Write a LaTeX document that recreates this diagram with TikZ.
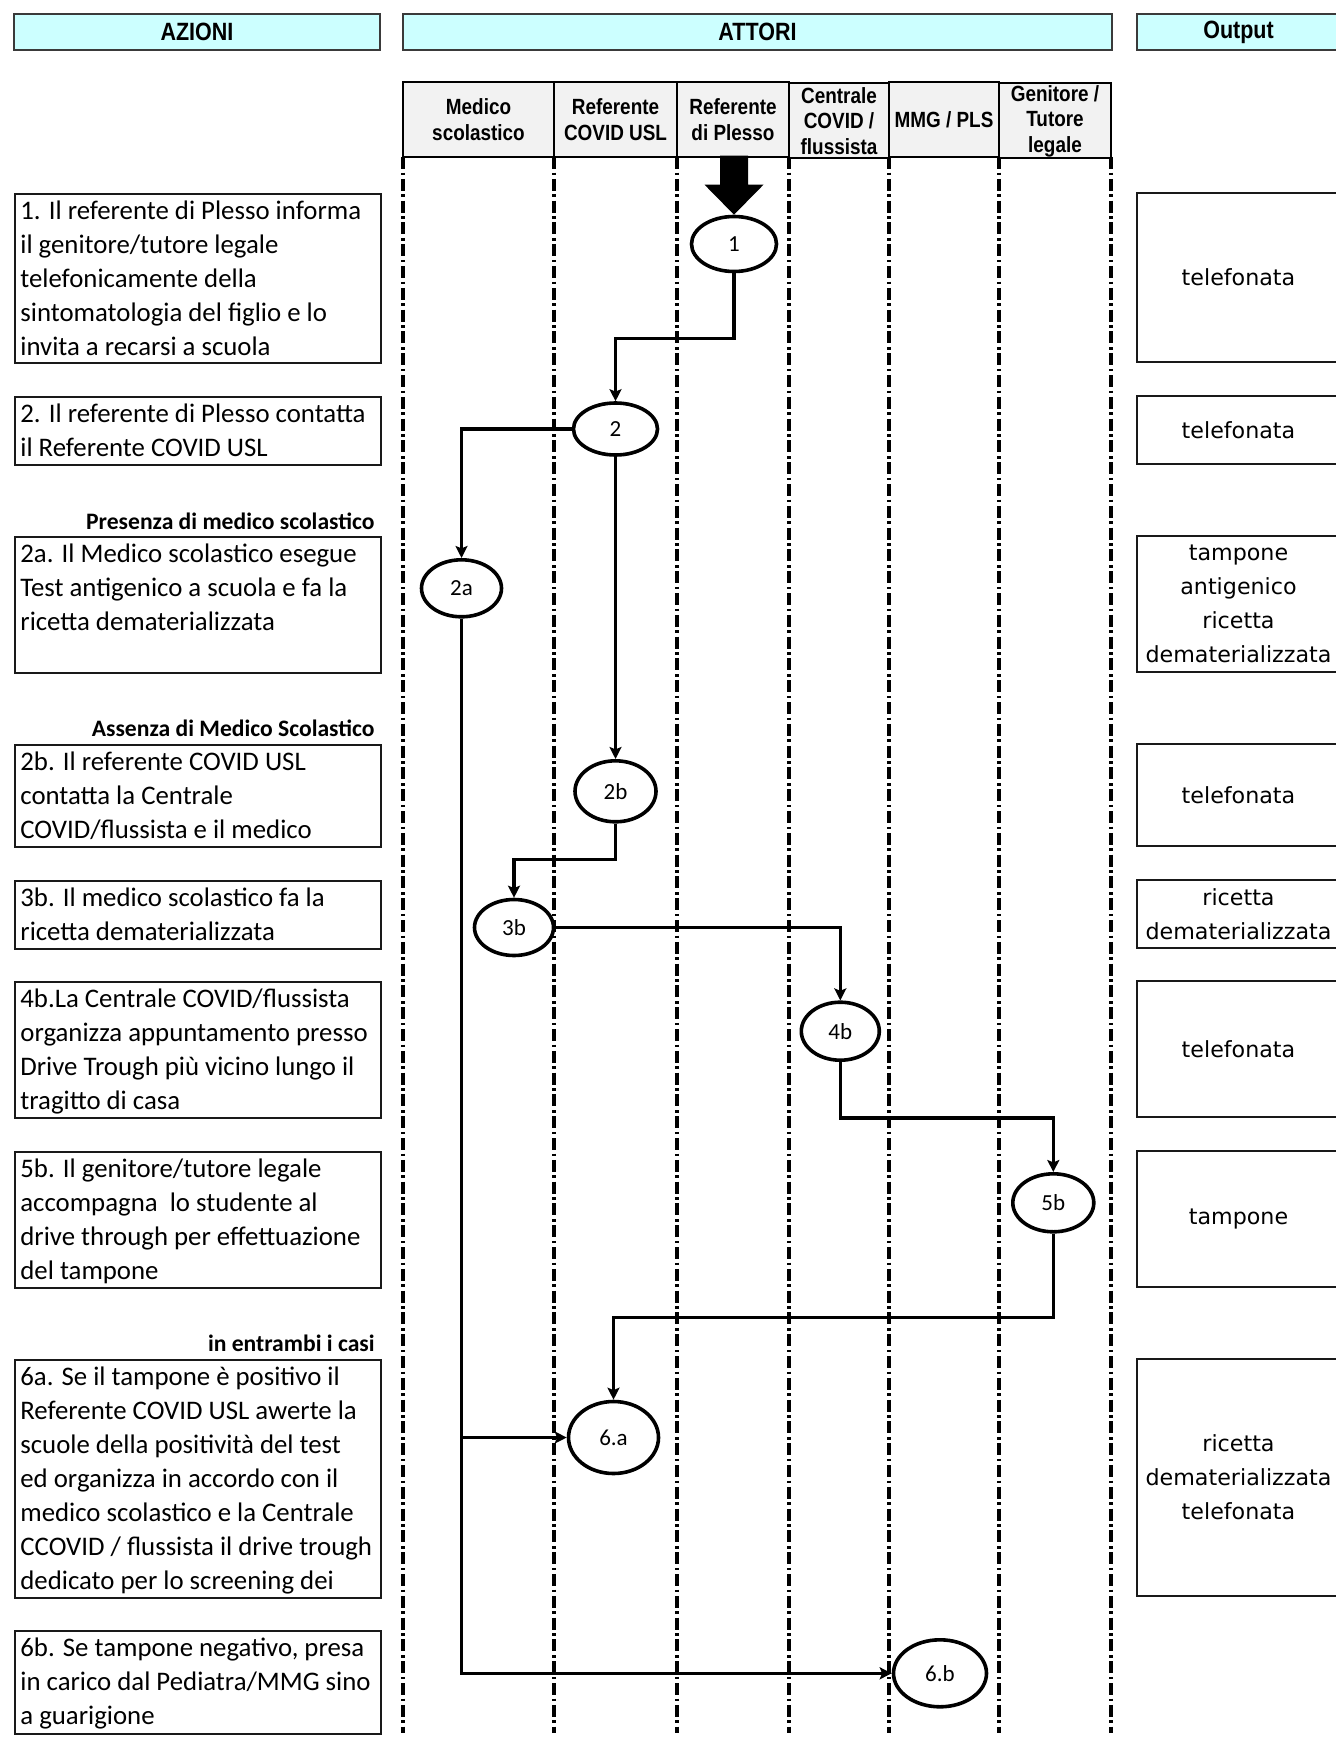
\documentclass[tikz,border=0pt]{standalone}
\usepackage{fontspec}
\setmainfont{Carlito}
\newfontfamily\hdrfont[FakeStretch=0.86]{Liberation Sans}
\newfontfamily\outfont{DejaVu Sans}
\usetikzlibrary{shapes.geometric,arrows.meta,calc}
\definecolor{titlecyan}{HTML}{CCFFFF}
\definecolor{hdrgray}{HTML}{F2F2F2}
\definecolor{edgegray}{HTML}{3A3A3A}
\begin{document}
\begin{tikzpicture}[x=0.5pt,y=-0.5pt,
  title/.style={draw=edgegray,line width=1.2pt,fill=titlecyan,inner sep=0pt,minimum height=18pt,font=\hdrfont\bfseries\fontsize{12.5}{14}\selectfont},
  lanehdr/.style={draw=black,line width=1pt,fill=hdrgray,inner sep=0pt,minimum height=37.5pt,align=center,font=\hdrfont\bfseries\fontsize{11}{12.75}\selectfont},
  lane/.style={line width=1.6pt,dash pattern=on 6pt off 1.8pt on 1.3pt off 1.8pt},
  lbox/.style={draw=black!90,line width=1.1pt,minimum width=183pt,inner sep=0pt,anchor=north west},
  ltext/.style={anchor=north west,inner sep=0pt,align=left,font=\fontsize{13.4}{17}\selectfont},
  lbl/.style={anchor=east,inner sep=0pt,font=\bfseries\fontsize{11.8}{13}\selectfont},
  obox/.style={draw=black!90,line width=1.1pt,minimum width=101.5pt,inner sep=0pt,align=center,font=\outfont\fontsize{11.1}{17}\selectfont},
  circ/.style={ellipse,draw,line width=1.8pt,fill=white,inner sep=0pt,font=\fontsize{11.5}{13}\selectfont},
  conn/.style={line width=1.8pt,-{Stealth[length=6pt,width=6pt,inset=1.2pt]}}
]
\useasboundingbox (0,0) rectangle (1336,1744);
\clip (0,0) rectangle (1336,1744);

% titles
\node[title,minimum width=183pt] (tAz) at (197,32) {AZIONI};
\node[title,minimum width=354.5pt] (tAt) at (757.5,32) {ATTORI};
\node[title,minimum width=101.5pt] (tOut) at (1238.5,32) {Output};

% lane headers
\node[lanehdr,minimum width=75.5pt] (h1) at (478.5,119.5) {Medico\\scolastico};
\node[lanehdr,minimum width=61.5pt] (h2) at (615.5,119.5) {Referente\\COVID USL};
\node[lanehdr,minimum width=56pt] (h3) at (733,119.5) {Referente\\di Plesso};
\node[lanehdr,minimum width=50pt] (h4) at (839,121) {Centrale\\COVID /\\flussista};
\node[lanehdr,minimum width=55pt] (h5) at (944,119.5) {MMG / PLS};
\node[lanehdr,minimum width=56pt] (h6) at (1055,121) {Genitore /\\Tutore\\legale};

% lane lines
\foreach \lx in {403,554,677,789,889,999,1111}{
  \draw[lane] (\lx,157) -- (\lx,1733);
}

% left boxes
\node[lbox,minimum height=84.5pt] (b1) at (14,193) {};
\node[ltext] (t1) at ([xshift=3pt]b1.north west) {\rule{0pt}{13pt}1. Il referente di Plesso informa\\il genitore/tutore legale\\telefonicamente della\\sintomatologia del figlio e lo\\invita a recarsi a scuola};
\node[lbox,minimum height=34pt] (b2) at (14,396) {};
\node[ltext] (t2) at ([xshift=3pt]b2.north west) {\rule{0pt}{13pt}2. Il referente di Plesso contatta\\il Referente COVID USL};
\node[lbl] (l2a) at (375,521.7) {Presenza di medico scolastico};
\node[lbox,minimum height=68pt] (b2a) at (14,536) {};
\node[ltext] (t2a) at ([xshift=3pt]b2a.north west) {\rule{0pt}{13pt}2a. Il Medico scolastico esegue\\Test antigenico a scuola e fa la\\ricetta dematerializzata};
\node[lbl] (l2b) at (375,728.3) {Assenza di Medico Scolastico};
\node[lbox,minimum height=51pt] (b2b) at (14,744) {};
\node[ltext] (t2b) at ([xshift=3pt]b2b.north west) {\rule{0pt}{13pt}2b. Il referente COVID USL\\contatta la Centrale\\COVID/flussista e il medico};
\node[lbox,minimum height=34pt] (b3b) at (14,880) {};
\node[ltext] (t3b) at ([xshift=3pt]b3b.north west) {\rule{0pt}{13pt}3b. Il medico scolastico fa la\\ricetta dematerializzata};
\node[lbox,minimum height=68pt] (b4b) at (14,981) {};
\node[ltext] (t4b) at ([xshift=3pt]b4b.north west) {\rule{0pt}{13pt}4b.La Centrale COVID/flussista\\organizza appuntamento presso\\Drive Trough più vicino lungo il\\tragitto di casa};
\node[lbox,minimum height=68pt] (b5b) at (14,1151) {};
\node[ltext] (t5b) at ([xshift=3pt]b5b.north west) {\rule{0pt}{13pt}5b. Il genitore/tutore legale\\accompagna~ lo studente al\\drive through per effettuazione\\del tampone};
\node[lbl] (l6) at (375,1343) {in entrambi i casi};
\node[lbox,minimum height=119pt] (b6a) at (14,1359) {};
\node[ltext] (t6a) at ([xshift=3pt]b6a.north west) {\rule{0pt}{13pt}6a. Se il tampone è positivo il\\Referente COVID USL awerte la\\scuole della positività del test\\ed organizza in accordo con il\\medico scolastico e la Centrale\\CCOVID / flussista il drive trough\\dedicato per lo screening dei};
\node[lbox,minimum height=51.5pt] (b6b) at (14,1630) {};
\node[ltext] (t6b) at ([xshift=3pt]b6b.north west) {\rule{0pt}{13pt}6b. Se tampone negativo, presa\\in carico dal Pediatra/MMG sino\\a guarigione};

% output boxes
\node[obox,minimum height=84.5pt] (o1) at (1238.5,277.5) {telefonata};
\node[obox,minimum height=34pt] (o2) at (1238.5,430) {telefonata};
\node[obox,minimum height=68pt] (o3) at (1238.5,604) {tampone\\antigenico\\ricetta\\dematerializzata};
\node[obox,minimum height=51pt] (o4) at (1238.5,795) {telefonata};
\node[obox,minimum height=34pt] (o5) at (1238.5,914) {ricetta\\dematerializzata};
\node[obox,minimum height=68pt] (o6) at (1238.5,1049) {telefonata};
\node[obox,minimum height=68pt] (o7) at (1238.5,1219) {tampone};
\node[obox,minimum height=118.5pt] (o8) at (1238.5,1477.5) {ricetta\\dematerializzata\\telefonata};

% flow nodes
\node[circ,minimum width=42.5pt,minimum height=27.5pt] (n1) at (734,244) {1};
\node[circ,minimum width=42pt,minimum height=26pt] (n2) at (615.5,429) {2};
\node[circ,minimum width=40pt,minimum height=28.5pt] (n2a) at (461.5,588.3) {2a};
\node[circ,minimum width=40.5pt,minimum height=30.5pt] (n2b) at (615.5,791.3) {2b};
\node[circ,minimum width=39.5pt,minimum height=28pt] (n3b) at (514,927.5) {3b};
\node[circ,minimum width=39pt,minimum height=29pt] (n4b) at (840.3,1031.2) {4b};
\node[circ,minimum width=40.5pt,minimum height=29pt] (n5b) at (1053.3,1202.8) {5b};
\node[circ,minimum width=45pt,minimum height=36pt] (n6a) at (613.5,1437.5) {6.a};
\node[circ,minimum width=46.5pt,minimum height=33.5pt] (n6b) at (940,1673.3) {6.b};

% big start arrow
\fill[black] ($(n1.north)+(-14,-59)$) -- ($(n1.north)+(14,-59)$) -- ($(n1.north)+(14,-30)$) -- ($(n1.north)+(29.5,-30)$) -- (n1.north) -- ($(n1.north)+(-29.5,-30)$) -- ($(n1.north)+(-14,-30)$) -- cycle;

% connectors
\draw[conn] (n1.south) -- ++(0,65) -| (n2.north);
\draw[conn] (n2.west) -| (n2a.north);
\draw[conn] (n2.south) -- (n2b.north);
\draw[conn] (n2b.south) -- ++(0,36) -| (n3b.north);
\draw[conn] (n3b.east) -| (n4b.north);
\draw[conn] (n4b.south) -- ++(0,56) -| (n5b.north);
\draw[conn] (n5b.south) -- ++(0,84) -| (n6a.north);
\draw[conn] (n2a.south) |- (n6b.west);
\coordinate (j6a) at (n2a.south |- n6a.west);
\draw[conn] (j6a) -- (n6a.west);
\end{tikzpicture}
\end{document}
